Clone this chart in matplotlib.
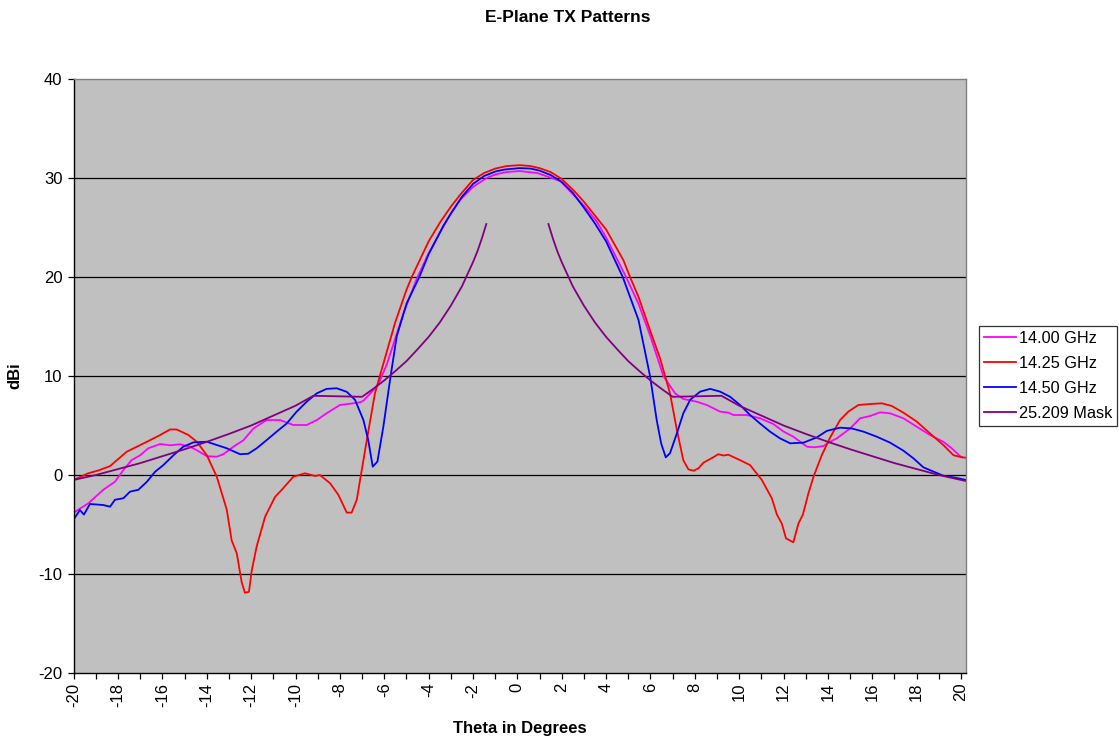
import numpy as np
import matplotlib
matplotlib.use("Agg")
import matplotlib.pyplot as plt
from matplotlib.ticker import MultipleLocator, FuncFormatter

plt.rcParams['font.family'] = ['Liberation Sans', 'DejaVu Sans']
plt.rcParams['axes.unicode_minus'] = False

# 14.00 GHz measured pattern
theta_1400 = [-20.0, -19.34, -18.67, -18.14, -17.76, -17.39, -17.0, -16.64, -16.1, -15.66,
              -15.2, -14.76, -14.45, -14.0, -13.55, -13.25, -12.8, -12.35, -11.9, -11.3,
              -10.7, -10.1, -9.5, -9.04, -8.6, -8.0, -7.4, -7.09, -6.94, -6.56,
              -6.26, -5.88, -5.14, -4.54, -4.0, -3.26, -3.0, -2.58, -2.0, -1.38,
              -1.0, -0.5, 0.1, 0.9, 1.93, 3.0, 3.58, 4.0, 4.9, 5.46,
              6.0, 6.58, 7.11, 7.48, 8.09, 8.54, 9.14, 9.51, 9.74, 10.34,
              10.94, 11.54, 11.99, 12.44, 12.75, 13.05, 13.4, 13.8, 14.1, 14.4,
              15.0, 15.45, 15.9, 16.35, 16.8, 17.4, 18.0, 18.6, 19.2, 19.58,
              19.96, 20.05]
dbi_1400 = [-3.8, -2.86, -1.5, -0.68, 0.5, 1.5, 2.0, 2.7, 3.13, 3.0,
            3.1, 2.86, 2.5, 1.9, 1.85, 2.1, 2.86, 3.5, 4.7, 5.55,
            5.55, 5.05, 5.05, 5.55, 6.23, 7.07, 7.24, 7.35, 7.5, 8.4,
            9.2, 11.2, 16.3, 19.8, 22.4, 25.4, 26.4, 27.8, 29.1, 30.0,
            30.35, 30.6, 30.7, 30.5, 29.7, 27.2, 25.6, 24.0, 20.0, 17.3,
            14.0, 10.0, 8.25, 7.68, 7.4, 7.07, 6.4, 6.3, 6.06, 6.06,
            5.73, 5.15, 4.4, 3.87, 3.36, 2.86, 2.8, 2.93, 3.36, 3.7,
            4.7, 5.73, 5.96, 6.33, 6.23, 5.73, 4.88, 4.04, 3.36, 2.7,
            1.9, 1.8]

# 14.25 GHz measured pattern
theta_1425 = [-20.0, -19.35, -18.9, -18.36, -17.61, -16.7, -16.1, -15.66, -15.36, -14.83,
              -14.45, -14.0, -13.55, -13.1, -12.88, -12.65, -12.43, -12.28, -12.1, -11.97,
              -11.75, -11.37, -10.92, -10.62, -10.1, -9.57, -9.12, -8.9, -8.44, -8.07,
              -7.69, -7.47, -7.24, -7.09, -6.79, -6.42, -6.2, -5.51, -5.0, -4.76,
              -4.0, -3.49, -3.0, -2.58, -2.0, -1.5, -1.0, -0.5, 0.12, 0.6,
              1.0, 1.5, 2.0, 2.6, 3.0, 3.43, 4.0, 4.78, 5.08, 5.46,
              6.0, 6.43, 6.88, 7.19, 7.48, 7.71, 7.94, 8.16, 8.39, 8.76,
              9.06, 9.29, 9.51, 10.04, 10.49, 11.02, 11.47, 11.7, 11.92, 12.11,
              12.44, 12.67, 12.87, 13.12, 13.35, 13.72, 14.1, 14.55, 14.92, 15.37,
              15.9, 16.43, 16.88, 17.4, 18.0, 18.6, 19.2, 19.66, 20.03, 20.2]
dbi_1425 = [-0.5, 0.17, 0.45, 0.9, 2.35, 3.36, 4.04, 4.6, 4.6, 4.04,
            3.36, 2.0, -0.17, -3.5, -6.6, -7.9, -10.8, -11.9, -11.8, -9.6,
            -7.2, -4.2, -2.2, -1.5, -0.17, 0.17, -0.1, 0.0, -0.84, -2.0,
            -3.8, -3.8, -2.5, -0.5, 3.5, 8.25, 10.0, 15.4, 18.7, 20.0,
            23.6, 25.5, 27.1, 28.3, 29.8, 30.5, 30.95, 31.2, 31.3, 31.2,
            31.0, 30.6, 29.9, 28.6, 27.6, 26.4, 24.8, 21.7, 20.0, 18.0,
            14.5, 11.8, 8.25, 4.55, 1.5, 0.57, 0.43, 0.67, 1.25, 1.7,
            2.1, 1.97, 2.05, 1.5, 1.0, -0.5, -2.35, -4.0, -4.9, -6.4,
            -6.8, -4.9, -4.0, -1.85, -0.17, 2.0, 3.8, 5.56, 6.4, 7.07,
            7.17, 7.24, 6.97, 6.3, 5.4, 4.2, 3.03, 2.0, 1.79, 1.75]

# 14.50 GHz measured pattern
theta_1450 = [-20.0, -19.72, -19.54, -19.27, -18.67, -18.36, -18.14, -17.76, -17.46, -17.09,
              -16.7, -16.33, -15.96, -15.5, -15.06, -14.6, -14.0, -13.55, -13.1, -12.5,
              -12.13, -11.75, -11.3, -10.85, -10.4, -9.95, -9.5, -9.04, -8.6, -8.14,
              -7.69, -7.32, -6.94, -6.72, -6.52, -6.31, -6.04, -5.74, -5.44, -4.99,
              -4.42, -4.0, -3.33, -3.0, -2.5, -2.0, -1.5, -1.0, -0.6, 0.1,
              0.6, 1.0, 1.5, 2.0, 2.5, 3.0, 3.5, 4.0, 4.75, 5.46,
              5.98, 6.28, 6.48, 6.69, 6.88, 7.19, 7.48, 7.79, 8.24, 8.69,
              9.14, 9.59, 10.04, 10.49, 10.94, 11.39, 11.84, 12.3, 12.9, 13.5,
              13.95, 14.55, 15.08, 15.6, 16.2, 16.8, 17.4, 17.85, 18.3, 18.76,
              19.2, 19.66, 20.08, 20.2]
dbi_1450 = [-4.48, -3.54, -4.0, -2.93, -3.03, -3.2, -2.5, -2.35, -1.68, -1.5,
            -0.68, 0.33, 1.0, 2.0, 2.86, 3.3, 3.36, 3.03, 2.7, 2.1,
            2.15, 2.7, 3.53, 4.38, 5.2, 6.4, 7.4, 8.25, 8.7, 8.76,
            8.4, 7.6, 5.55, 3.5, 0.84, 1.35, 4.9, 9.6, 14.0, 17.35,
            20.0, 22.3, 25.2, 26.4, 28.1, 29.4, 30.2, 30.65, 30.85, 31.0,
            30.95, 30.75, 30.3, 29.6, 28.5, 27.0, 25.4, 23.6, 20.0, 15.66,
            10.0, 5.56, 3.2, 1.78, 2.2, 4.2, 6.23, 7.6, 8.42, 8.7,
            8.42, 7.9, 7.07, 6.06, 5.2, 4.38, 3.7, 3.2, 3.27, 3.8,
            4.46, 4.78, 4.7, 4.38, 3.87, 3.27, 2.46, 1.69, 0.78, 0.34,
            -0.07, -0.24, -0.43, -0.5]

# 25.209 sidelobe mask (no mask inside |theta| < 1.4)
theta_mask = [-20.0, -19.0, -18.0, -17.0, -16.0, -15.0, -14.0, -13.0, -12.0, -11.0,
              -10.0, -9.2, -7.0, -6.5, -6.0, -5.5, -5.0, -4.5, -4.0, -3.5,
              -3.0, -2.5, -2.0, -1.8, -1.6, -1.4, 0.0,
              1.4, 1.6, 1.8, 2.0, 2.5, 3.0, 3.5, 4.0, 4.5, 5.0,
              5.5, 6.0, 6.5, 7.0, 9.2, 10.0, 11.0, 12.0, 13.0, 14.0,
              15.0, 16.0, 17.0, 18.0, 19.0, 20.0, 20.2]
dbi_mask = [-0.5, 0.0, 0.6, 1.2, 1.9, 2.6, 3.35, 4.15, 5.0, 6.0,
            7.0, 8.0, 7.9, 8.7, 9.55, 10.5, 11.5, 12.7, 13.95, 15.4,
            17.1, 19.05, 21.5, 22.6, 23.9, 25.35, np.nan,
            25.35, 23.9, 22.6, 21.5, 19.05, 17.1, 15.4, 13.95, 12.7, 11.5,
            10.5, 9.55, 8.7, 7.9, 8.0, 7.0, 6.0, 5.0, 4.15, 3.35,
            2.6, 1.9, 1.2, 0.6, 0.0, -0.5, -0.6]

series = [
    ("14.00 GHz", theta_1400, dbi_1400, "#FF00FF"),
    ("14.25 GHz", theta_1425, dbi_1425, "#FF0000"),
    ("14.50 GHz", theta_1450, dbi_1450, "#0000FF"),
    ("25.209 Mask", theta_mask, dbi_mask, "#800080"),
]

W, H = 1119, 739
fig = plt.figure(figsize=(W / 100, H / 100), dpi=100)
fig.patch.set_facecolor("white")
left_px, right_px, top_px, bottom_px = 73.7, 965.7, 79, 673
ax = fig.add_axes([left_px / W, 1 - bottom_px / H,
                   (right_px - left_px) / W, (bottom_px - top_px) / H])
ax.set_facecolor("#C0C0C0")

for label, th, val, col in series:
    ax.plot(th, val, color=col, lw=1.3, label=label, solid_joinstyle="round")

ax.set_xlim(-20, 20.21)
ax.set_ylim(-20, 40)
ax.yaxis.set_major_locator(MultipleLocator(10))
ax.xaxis.set_major_locator(MultipleLocator(1))
ax.xaxis.set_major_formatter(FuncFormatter(
    lambda v, p: f"{int(round(v))}" if int(round(v)) % 2 == 0 else ""))

for y in [-10, 0, 10, 20, 30]:
    ax.axhline(y, color="black", lw=0.9, zorder=1.5)

ax.spines["left"].set_color("black")
ax.spines["bottom"].set_color("black")
ax.spines["top"].set_color("#808080")
ax.spines["right"].set_color("#808080")
for s in ax.spines.values():
    s.set_linewidth(1.0)

ax.tick_params(axis="both", direction="out", length=4, width=0.9, colors="black",
               labelsize=12)
ax.tick_params(axis="x", labelrotation=90, pad=3)
ax.tick_params(axis="y", pad=4)

fig.text(568 / W, 1 - 18 / H, "E-Plane TX Patterns",
         ha="center", va="center", fontsize=12.5, fontweight="bold")
fig.text((left_px + right_px) / 2 / W, 1 - 728 / H, "Theta in Degrees",
         ha="center", va="center", fontsize=12, fontweight="bold")
fig.text(15 / W, 1 - 376 / H, "dBi", ha="center", va="center", rotation=90,
         fontsize=12, fontweight="bold")

leg = fig.legend(loc="upper left", bbox_to_anchor=(979 / W, 1 - 326 / H),
                 bbox_transform=fig.transFigure, fontsize=11.7, frameon=True,
                 fancybox=False, edgecolor="black", handlelength=1.95,
                 handletextpad=0.2, labelspacing=0.62, borderpad=0.3,
                 borderaxespad=0)
leg.get_frame().set_linewidth(0.9)

fig.savefig("out.png", dpi=100)
